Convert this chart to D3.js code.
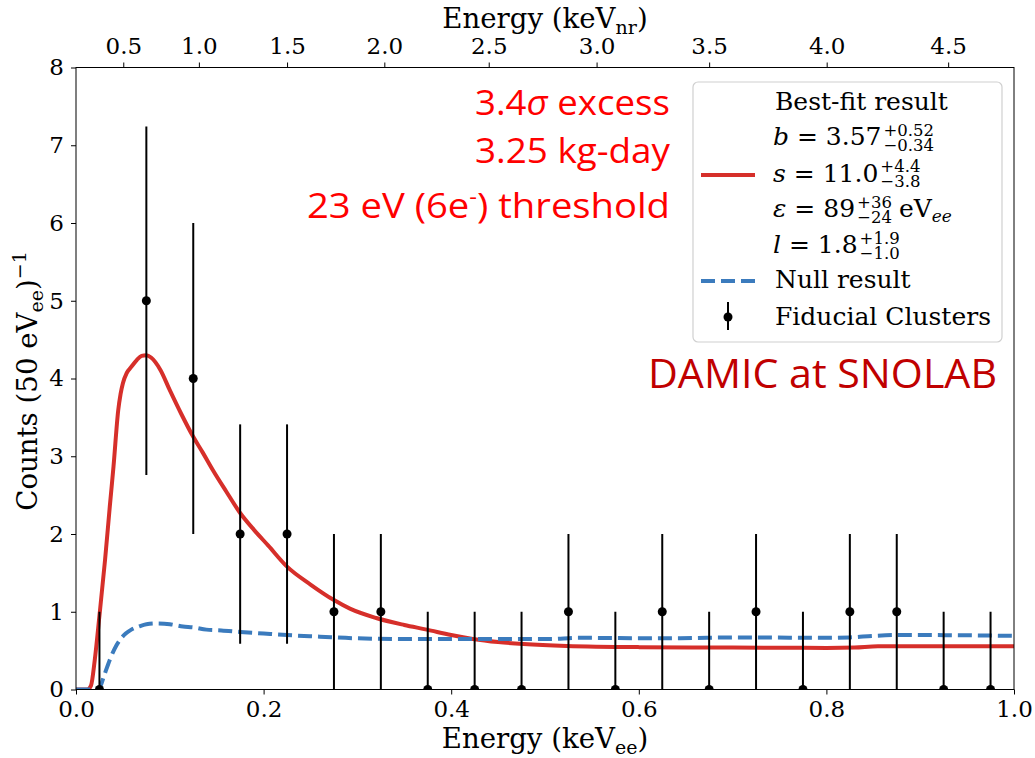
<!DOCTYPE html>
<html>
<head>
<meta charset="utf-8">
<script src="https://cdn.jsdelivr.net/npm/d3@7"></script>
<style>
  body { margin: 0; background: #fff; }
  svg text { font-family: "DejaVu Serif", serif; fill: #000; }
  svg text.note { font-family: "Open Sans", sans-serif; }
</style>
</head>
<body>
<script>
// ---- data ----
const binCenters = [0.025, 0.075, 0.125, 0.175, 0.225, 0.275, 0.325, 0.375, 0.425, 0.475,
                    0.525, 0.575, 0.625, 0.675, 0.725, 0.775, 0.825, 0.875, 0.925, 0.975];
const counts     = [0, 5, 4, 2, 2, 1, 1, 0, 0, 0, 1, 0, 1, 0, 1, 0, 1, 1, 0, 0];
const errLow     = [0, 2.24, 2, 1.41, 1.41, 1, 1, 0, 0, 0, 1, 0, 1, 0, 1, 0, 1, 1, 0, 0];
const errHigh    = [1, 2.24, 2, 1.41, 1.41, 1, 1, 1, 1, 1, 1, 1, 1, 1, 1, 1, 1, 1, 1, 1];

// best-fit model (red)
const fitX = [0, 0.012, 0.016, 0.020, 0.025, 0.031, 0.036, 0.040, 0.045, 0.0475, 0.050, 0.054,
              0.059, 0.065, 0.070, 0.075, 0.080, 0.090, 0.100, 0.112, 0.125, 0.135, 0.146, 0.160,
              0.175, 0.190, 0.205, 0.225, 0.250, 0.275, 0.292, 0.320, 0.350, 0.374, 0.400, 0.423,
              0.450, 0.477, 0.523, 0.600, 0.700, 0.800, 0.830, 0.855, 0.900, 1.000];
const fitY = [0, 0, 0.05, 0.38, 0.95, 1.67, 2.35, 2.87, 3.59, 3.80, 3.94, 4.07,
              4.15, 4.24, 4.29, 4.30, 4.27, 4.11, 3.85, 3.55, 3.25, 3.05, 2.82, 2.55,
              2.27, 2.05, 1.85, 1.58, 1.35, 1.15, 1.04, 0.92, 0.83, 0.77, 0.70, 0.65,
              0.61, 0.585, 0.56, 0.545, 0.54, 0.535, 0.54, 0.555, 0.555, 0.555];

// null result (blue dashed)
const nullX = [0, 0.020, 0.025, 0.030, 0.036, 0.041, 0.047, 0.053, 0.059, 0.067, 0.075, 0.086,
               0.100, 0.114, 0.125, 0.139, 0.155, 0.175, 0.200, 0.225, 0.260, 0.295, 0.350, 0.450,
               0.505, 0.535, 0.600, 0.644, 0.700, 0.800, 0.825, 0.850, 0.875, 0.900, 1.000];
const nullY = [0, 0, 0.02, 0.18, 0.38, 0.52, 0.64, 0.72, 0.77, 0.81, 0.84, 0.85,
               0.84, 0.81, 0.80, 0.77, 0.76, 0.74, 0.72, 0.70, 0.68, 0.66, 0.65, 0.65,
               0.65, 0.665, 0.66, 0.66, 0.67, 0.665, 0.67, 0.69, 0.70, 0.70, 0.69];

const xTicks = [0, 0.2, 0.4, 0.6, 0.8, 1.0];
const yTicks = [0, 1, 2, 3, 4, 5, 6, 7, 8];
// top axis: keVnr tick values and the keVee value they sit on
const nrTicks   = [0.5, 1.0, 1.5, 2.0, 2.5, 3.0, 3.5, 4.0, 4.5];
const nrTicksEe = [0.0504, 0.131, 0.225, 0.3287, 0.440, 0.555, 0.675, 0.8003, 0.9298];

// ---- layout ----
const w = 1035, h = 758;
const pLeft = 76, pRight = 1014, pTop = 67.5, pBottom = 689.5;
const red = '#d62f2a', blue = '#3b7bbd';
const fs = 23;      // tick labels
const lfs = 27.6;   // axis labels
const gfs = 25;     // legend

const svg = d3.select('body').append('svg')
    .attr('width', w).attr('height', h);

const x = d3.scaleLinear().domain([0, 1]).range([pLeft, pRight]);
const y = d3.scaleLinear().domain([0, 8]).range([pBottom, pTop]);
const xTop = d3.scaleLinear().domain(nrTicks).range(nrTicksEe.map(x));

svg.append('clipPath').attr('id', 'plot')
    .append('rect').attr('x', pLeft).attr('y', pTop)
    .attr('width', pRight - pLeft).attr('height', pBottom - pTop);

const plot = svg.append('g').attr('clip-path', 'url(#plot)');

// curves
const line = d3.line().x(d => x(d[0])).y(d => y(d[1])).curve(d3.curveMonotoneX);
plot.append('path')
    .attr('d', line(fitX.map((v, i) => [v, fitY[i]])))
    .attr('fill', 'none').attr('stroke', red).attr('stroke-width', 4);
plot.append('path')
    .attr('d', line(nullX.map((v, i) => [v, nullY[i]])))
    .attr('fill', 'none').attr('stroke', blue).attr('stroke-width', 4)
    .attr('stroke-dasharray', '14,6');

// data points with error bars
plot.selectAll('line.err').data(binCenters).enter().append('line')
    .attr('class', 'err')
    .attr('x1', d => x(d)).attr('x2', d => x(d))
    .attr('y1', (d, i) => y(counts[i] - errLow[i]))
    .attr('y2', (d, i) => y(counts[i] + errHigh[i]))
    .attr('stroke', '#000').attr('stroke-width', 2);
plot.selectAll('circle').data(binCenters).enter().append('circle')
    .attr('cx', d => x(d)).attr('cy', (d, i) => y(counts[i]))
    .attr('r', 4.5).attr('fill', '#000');

// axes
const styleAxis = g => {
    g.select('.domain').remove();
    g.selectAll('line').attr('stroke', '#000');
    g.selectAll('text').attr('font-size', fs).attr('font-family', 'DejaVu Serif');
};
svg.append('g').attr('transform', `translate(0,${pBottom})`)
    .call(d3.axisBottom(x).tickValues(xTicks).tickFormat(d3.format('.1f')).tickSize(5).tickPadding(6))
    .call(styleAxis);
svg.append('g').attr('transform', `translate(${pLeft},0)`)
    .call(d3.axisLeft(y).tickValues(yTicks).tickSize(5).tickPadding(7))
    .call(styleAxis);
svg.append('g').attr('transform', `translate(0,${pTop})`)
    .call(d3.axisTop(xTop).tickValues(nrTicks).tickFormat(d3.format('.1f')).tickSize(5).tickPadding(9))
    .call(styleAxis);

// frame
svg.append('rect').attr('x', pLeft).attr('y', pTop)
    .attr('width', pRight - pLeft).attr('height', pBottom - pTop)
    .attr('fill', 'none').attr('stroke', '#000').attr('stroke-width', 1);

// axis labels
const xl = svg.append('text').attr('x', (pLeft + pRight) / 2).attr('y', 748)
    .attr('text-anchor', 'middle').attr('font-size', lfs);
xl.append('tspan').text('Energy (keV');
xl.append('tspan').attr('font-size', 19).attr('dy', 6).text('ee');
xl.append('tspan').attr('dy', -6).text(')');

const tl = svg.append('text').attr('x', (pLeft + pRight) / 2).attr('y', 28)
    .attr('text-anchor', 'middle').attr('font-size', lfs);
tl.append('tspan').text('Energy (keV');
tl.append('tspan').attr('font-size', 19).attr('dy', 6).text('nr');
tl.append('tspan').attr('dy', -6).text(')');

const yl = svg.append('text').attr('transform', `translate(37,381) rotate(-90)`)
    .attr('text-anchor', 'middle').attr('font-size', lfs);
yl.append('tspan').text('Counts (50 eV');
yl.append('tspan').attr('font-size', 19).attr('dy', 6).text('ee');
yl.append('tspan').attr('dy', -6).text(')');
yl.append('tspan').attr('font-size', 19).attr('dy', -11).text('\u22121');

// legend
const lg = svg.append('g');
lg.append('rect').attr('x', 693).attr('y', 82).attr('width', 309).attr('height', 260)
    .attr('rx', 5).attr('fill', '#fff').attr('fill-opacity', 0.8)
    .attr('stroke', '#d0d0d0').attr('stroke-width', 1.2);
const tx = 775;
lg.append('text').attr('x', tx).attr('y', 110).attr('font-size', gfs).text('Best-fit result');

function paramRow(yb, sym, val, sup, sub, tail) {
    const t = lg.append('text').attr('x', tx - 2).attr('y', yb).attr('font-size', gfs);
    t.append('tspan').attr('font-style', 'italic').text(sym);
    t.append('tspan').text(' = ' + val);
    const wBase = t.node().getComputedTextLength();
    const xs = tx - 2 + wBase + 2;
    const a = lg.append('text').attr('x', xs).attr('y', yb - 9.5).attr('font-size', 16.5).text(sup);
    const b = lg.append('text').attr('x', xs).attr('y', yb + 5.5).attr('font-size', 16.5).text(sub);
    if (tail) {
        const xe = xs + Math.max(a.node().getComputedTextLength(), b.node().getComputedTextLength()) + 7;
        const e = lg.append('text').attr('x', xe).attr('y', yb).attr('font-size', gfs);
        e.append('tspan').text(tail);
        e.append('tspan').attr('font-size', 17).attr('font-style', 'italic').attr('dy', 5).text('ee');
    }
}
paramRow(145, 'b', '3.57', '+0.52', '\u22120.34');
paramRow(181.5, 's', '11.0', '+4.4', '\u22123.8');
paramRow(217, '\u03b5', '89', '+36', '\u221224', 'eV');
paramRow(253, 'l', '1.8', '+1.9', '\u22121.0');
lg.append('text').attr('x', tx).attr('y', 288).attr('font-size', gfs).text('Null result');
lg.append('text').attr('x', tx).attr('y', 325).attr('font-size', gfs).text('Fiducial Clusters');

lg.append('line').attr('x1', 701).attr('x2', 755).attr('y1', 175).attr('y2', 175)
    .attr('stroke', red).attr('stroke-width', 4);
lg.append('line').attr('x1', 701).attr('x2', 755).attr('y1', 281).attr('y2', 281)
    .attr('stroke', blue).attr('stroke-width', 4).attr('stroke-dasharray', '14,6');
lg.append('line').attr('x1', 728).attr('x2', 728).attr('y1', 302).attr('y2', 330)
    .attr('stroke', '#000').attr('stroke-width', 2);
lg.append('circle').attr('cx', 728).attr('cy', 317).attr('r', 4.5).attr('fill', '#000');

// annotations (slide text)
const note = (xr, yb, size, color, len) => svg.append('text')
    .attr('class', 'note').attr('x', xr).attr('y', yb).attr('text-anchor', 'end')
    .attr('font-size', size).style('fill', color)
    .attr('textLength', len).attr('lengthAdjust', 'spacingAndGlyphs');

const a1 = note(670, 115, 35, '#ff0000', 195);
a1.append('tspan').text('3.4');
a1.append('tspan').attr('font-style', 'italic').text('\u03c3');
a1.append('tspan').text(' excess');
note(670, 163, 35, '#ff0000', 195).text('3.25 kg-day');
const a3 = note(670, 218, 35, '#ff0000', 363);
a3.append('tspan').text('23 eV (6e');
a3.append('tspan').attr('font-size', 22).attr('dy', -14).text('-');
a3.append('tspan').attr('dy', 14).text(') threshold');

note(997, 388, 40, '#c00000', 349).text('DAMIC at SNOLAB');
</script>
</body>
</html>
